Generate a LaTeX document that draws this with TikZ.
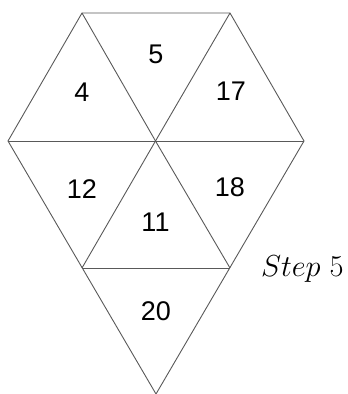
\documentclass[tikz,border=0pt]{standalone}
\usepackage{fontspec}
\newfontfamily\numfont{Liberation Sans}
\begin{document}
\begin{tikzpicture}[x=1pt,y=-1pt,
  edge/.style={draw=black!65,line width=0.9pt},
  num/.style={font=\numfont\fontsize{27}{30}\selectfont,inner sep=0pt},
  lab/.style={font=\fontsize{24}{28}\selectfont,inner sep=0pt}]
\useasboundingbox (0,0) rectangle (348,394);
\coordinate (TL) at (82,13);
\coordinate (TR) at (230,13);
\coordinate (L) at (8,141);
\coordinate (C) at (155.5,141);
\coordinate (R) at (304,141);
\coordinate (BL) at (82,268);
\coordinate (BR) at (230,268);
\coordinate (B) at (156,394);
\draw[edge] (TL) -- (TR) -- (R) -- (B) -- (L) -- cycle;
\draw[edge] (L) -- (R);
\draw[edge] (TL) -- (C) -- (BR);
\draw[edge] (TR) -- (C) -- (BL);
\draw[edge] (BL) -- (BR);
\node[num] (n5) at (156,54) {5};
\node[num] (n4) at (82,92.5) {4};
\node[num] (n17) at (231,91) {17};
\node[num] (n12) at (82,189) {12};
\node[num] (n18) at (230,187) {18};
\node[num] (n11) at (155.5,222) {11};
\node[num] (n20) at (156,311) {20};
\node[lab,anchor=base west] (step) at (261,276) {\scalebox{1.22}{$Step~5$}};
\end{tikzpicture}
\end{document}
